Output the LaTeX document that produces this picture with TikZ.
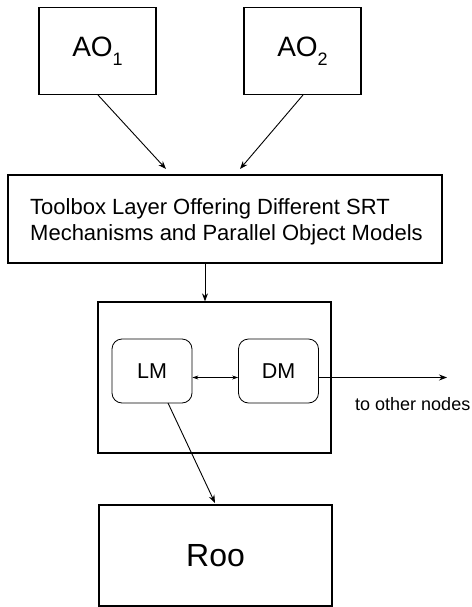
\documentclass[tikz,border=0pt]{standalone}
\usepackage{fontspec}
\setmainfont{Liberation Sans}
\usetikzlibrary{arrows.meta}
\begin{document}
\begin{tikzpicture}[x=1pt,y=-1pt,
  box/.style={draw,line width=1.3pt,inner sep=0pt},
  rbox/.style={draw,line width=0.8pt,rounded corners=10pt,inner sep=0pt,minimum width=80pt,minimum height=64pt,font=\fontsize{21.5}{24}\selectfont},
  conn/.style={line width=0.9pt,-{Stealth[length=8pt,width=6pt]}},
  dconn/.style={line width=0.6pt,{Stealth[length=6pt,width=4pt]}-{Stealth[length=6pt,width=4pt]}}]
\useasboundingbox (0,0) rectangle (471,607);
\node[box,minimum width=117pt,minimum height=87pt,font=\fontsize{28}{32}\selectfont] (ao1) at (97.5,51) {AO\raisebox{-0.6ex}{\fontsize{18}{20}\selectfont 1}};
\node[box,minimum width=117pt,minimum height=87pt,font=\fontsize{28}{32}\selectfont] (ao2) at (302.5,51) {AO\raisebox{-0.6ex}{\fontsize{18}{20}\selectfont 2}};
\node[box,minimum width=434pt,minimum height=88pt] (tb) at (225,219) {};
\node[anchor=west,align=left,inner sep=0pt,font=\fontsize{22}{26}\selectfont] (tbt) at (30,222) {Toolbox Layer Offering Different SRT\\Mechanisms and Parallel Object Models};
\node[box,minimum width=233pt,minimum height=151pt] (mid) at (214.5,377.5) {};
\node[rbox] (lm) at (152,371) {LM};
\node[rbox] (dm) at (278.5,371) {DM};
\node[box,minimum width=233pt,minimum height=101pt,font=\fontsize{32}{36}\selectfont] (roo) at (215.5,555.5) {Roo};
\node[anchor=west,inner sep=0pt,font=\fontsize{18}{20}\selectfont] (oth) at (355,404) {to other nodes};
\coordinate (out) at (447,377.5);
\coordinate (a1s) at (98,95);
\coordinate (a2s) at (303,95);
\coordinate (a1e) at (166,169);
\coordinate (a2e) at (240,169);
\draw[conn] (a1s) -- (a1e);
\draw[conn] (a2s) -- (a2e);
\draw[conn] (tb.south -| 205,0) -- (mid.north -| 205,0);
\draw[dconn] (lm.east |- 0,377.5) -- (dm.west |- 0,377.5);
\draw[conn] (dm.east |- 0,377.5) -- (out);
\draw[conn] (168,403) -- (215,503);
\end{tikzpicture}
\end{document}
